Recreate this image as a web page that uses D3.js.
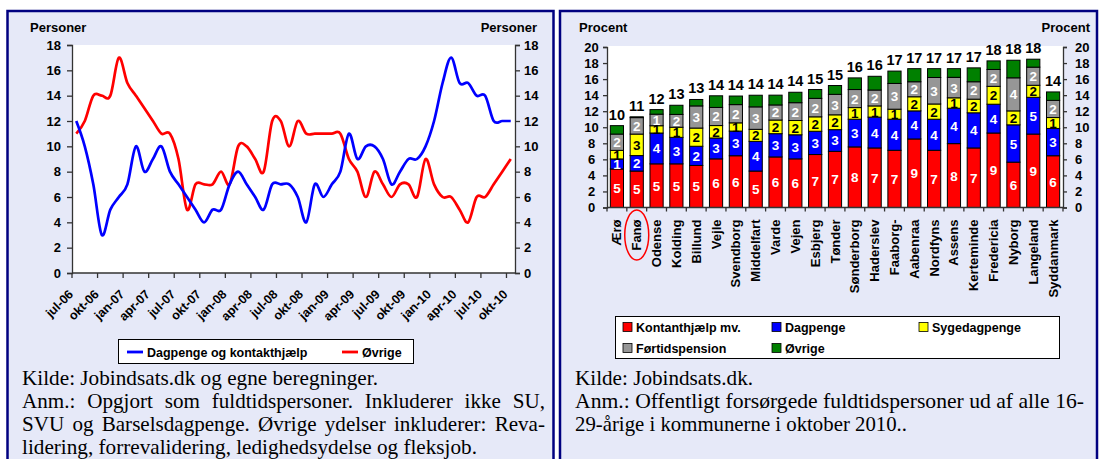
<!DOCTYPE html>
<html><head><meta charset="utf-8">
<script src="https://cdn.jsdelivr.net/npm/d3@7"></script>
<style>
body{margin:0;background:#fff}
svg{display:block}
text{font-family:"Liberation Sans",Arial,sans-serif}
.note{font-family:"Liberation Serif","Times New Roman",serif;font-size:20px;fill:#000}
</style>
</head><body>
<svg id="c" width="1099" height="459"></svg>
<script>
// ---------- DATA: left chart (monthly, persons) ----------
const months = ["jul-06","aug-06","sep-06","okt-06","nov-06","dec-06","jan-07","feb-07","mar-07","apr-07","maj-07","jun-07",
  "jul-07","aug-07","sep-07","okt-07","nov-07","dec-07","jan-08","feb-08","mar-08","apr-08","maj-08","jun-08",
  "jul-08","aug-08","sep-08","okt-08","nov-08","dec-08","jan-09","feb-09","mar-09","apr-09","maj-09","jun-09",
  "jul-09","aug-09","sep-09","okt-09","nov-09","dec-09","jan-10","feb-10","mar-10","apr-10","maj-10","jun-10",
  "jul-10","aug-10","sep-10","okt-10"];
const dagpengeKontant = [12,10,7,3,5,6,7,10,8,9,10,8,7,6,5,4,5,5,7,8,7,6,5,7,7,7,6,4,7,6,7,8,11,9,10,10,9,7,8,9,9,10,12,15,17,15,15,14,14,12,12,12];
const ovrigeLine      = [11,12,14,14,14,17,15,14,13,12,11,11,9,5,7,7,7,8,7,10,10,9,8,12,12,10,12,11,11,11,11,11,9,8,6,8,7,6,7,7,6,9,7,6,6,5,4,6,6,7,8,9];
const leftTicks = [0,2,4,6,8,10,12,14,16,18];

// ---------- DATA: right chart (percent, by municipality) ----------
const kommuner = ["Ærø","Fanø","Odense","Kolding","Billund","Vejle","Svendborg","Middelfart","Varde","Vejen","Esbjerg","Tønder",
  "Sønderborg","Haderslev","Faaborg-","Aabenraa","Nordfyns","Assens","Kerteminde","Fredericia","Nyborg","Langeland","Syddanmark"];
const kontanthjaelp = [4.8,4.54,5.44,5.44,5.24,6.06,6.45,4.54,6.3,6.06,6.6,7.0,7.55,7.42,7.13,8.54,7.13,7.96,7.42,9.28,5.65,9.15,6.45];
const dagpenge      = [1.25,1.93,3.84,3.3,2.39,2.6,3.07,3.7,2.9,3.0,2.9,2.7,3.45,3.84,3.87,3.5,3.87,4.41,4.38,3.59,4.65,4.58,3.4];
const sygedagpenge  = [1.07,2.68,0.91,1.26,2.27,1.55,1.03,1.5,1.7,1.78,1.8,1.85,1.45,1.4,1.25,1.76,1.9,1.3,1.7,2.23,1.74,1.5,1.36];
const fortidspension= [2.03,2.05,1.44,1.6,2.76,2.26,2.27,2.8,1.88,2.22,2.3,2.55,2.25,1.98,3.21,1.87,3.3,2.55,2.17,2.1,4.12,2.26,2.14];
const ovrige        = [1.05,0.1,0.57,1.14,0.8,1.45,1.07,1.45,1.22,1.3,1.1,1.1,1.45,1.71,1.54,1.63,1.1,1.08,1.73,1.07,2.19,0.99,1.05];
const rightTicks = [0,2,4,6,8,10,12,14,16,18,20];

const seriesNames = ["Kontanthjælp mv.","Dagpenge","Sygedagpenge","Førtidspension","Øvrige"];
const seriesColors = ["#FF0000","#0000FF","#FFFF00","#969696","#008000"];
const seriesTextColors = ["#fff","#fff","#000","#fff",null];

const svg = d3.select("#c");
const NAVY = "#000080", PANEL = "#E6E9F8";

// ---------- panels ----------
svg.append("rect").attr("x",7.5).attr("y",11).attr("width",546).attr("height",470)
  .attr("fill",PANEL).attr("stroke",NAVY).attr("stroke-width",2.5);
svg.append("rect").attr("x",560).attr("y",11).attr("width",537).attr("height",470)
  .attr("fill",PANEL).attr("stroke",NAVY).attr("stroke-width",2.5);

// ================= LEFT CHART =================
const L = {x0:72, x1:515, y0:45, y1:273};
const xL = d3.scaleBand().domain(d3.range(months.length)).range([L.x0,L.x1]);
const yL = d3.scaleLinear().domain([0,18]).range([L.y1,L.y0]);
const gL = svg.append("g");
gL.append("rect").attr("x",L.x0).attr("y",L.y0).attr("width",L.x1-L.x0).attr("height",L.y1-L.y0).attr("fill","#fff");

function styleAxis(g, fs){
  g.select(".domain").attr("stroke","#333").attr("stroke-width",1.3);
  g.selectAll(".tick line").attr("stroke","#333").attr("stroke-width",1.3);
  g.selectAll("text").attr("font-size",fs).attr("font-weight","bold").attr("fill","#000")
    .attr("font-family","Liberation Sans, Arial, sans-serif");
}
const axL = d3.axisLeft(yL).tickValues(leftTicks).tickSize(5).tickPadding(6);
const axR = d3.axisRight(yL).tickValues(leftTicks).tickSize(5).tickPadding(4);
gL.append("g").attr("transform",`translate(${L.x0},0)`).call(axL).call(g=>styleAxis(g,13));
gL.append("g").attr("transform",`translate(${L.x1},0)`).call(axR).call(g=>styleAxis(g,13));

// x axis
const tickIdx = d3.range(0, months.length, 3);
gL.append("line").attr("x1",L.x0).attr("x2",L.x1).attr("y1",L.y1).attr("y2",L.y1).attr("stroke","#333").attr("stroke-width",1.3);
gL.selectAll(".xt").data(tickIdx).join("line")
  .attr("x1",i=>xL(i)).attr("x2",i=>xL(i)).attr("y1",L.y1).attr("y2",L.y1+5).attr("stroke","#333").attr("stroke-width",1.3);
gL.selectAll(".xl").data(tickIdx).join("text")
  .attr("transform",i=>`translate(${xL(i)+2},${L.y1+22}) rotate(-45)`)
  .attr("text-anchor","end").attr("font-size",12.5).attr("font-weight","bold").text(i=>months[i]);

// lines
const lineGen = d3.line().x((d,i)=>xL(i)+xL.bandwidth()/2).y(d=>yL(d)).curve(d3.curveCatmullRom.alpha(0));
gL.append("path").datum(ovrigeLine).attr("d",lineGen).attr("fill","none").attr("stroke","#FF0000").attr("stroke-width",2.7);
gL.append("path").datum(dagpengeKontant).attr("d",lineGen).attr("fill","none").attr("stroke","#0000FF").attr("stroke-width",2.7);

// titles
gL.append("text").attr("x",30).attr("y",32).attr("font-size",13).attr("font-weight","bold").text("Personer");
gL.append("text").attr("x",537).attr("y",32).attr("text-anchor","end").attr("font-size",13).attr("font-weight","bold").text("Personer");

// legend
const lg = gL.append("g");
lg.append("rect").attr("x",118.5).attr("y",339.5).attr("width",295).attr("height",24).attr("fill","#fff").attr("stroke","#000").attr("stroke-width",1);
[["Dagpenge og kontakthjælp","#0000FF",127],["Øvrige","#FF0000",342]].forEach(([t,c,x])=>{
  lg.append("line").attr("x1",x).attr("x2",x+16).attr("y1",352).attr("y2",352).attr("stroke",c).attr("stroke-width",2.8);
  lg.append("text").attr("x",x+20).attr("y",356.5).attr("font-size",12.5).attr("font-weight","bold").text(t);
});

// notes (serif; justified where the reference is)
const SX = 1.055;
function noteLine(x,y,str,target,justify){
  const g = svg.append("g").attr("transform",`translate(${x},${y}) scale(${SX},1)`);
  const t = g.append("text").attr("class","note").attr("x",0).attr("y",0).text(str);
  const w = t.node().getComputedTextLength();
  if(justify){
    const n = (str.match(/ /g)||[]).length;
    if(n>0) t.attr("word-spacing",(target/SX - w)/n);
  } else if(target){
    t.attr("textLength",target/SX).attr("lengthAdjust","spacingAndGlyphs");
  }
  return t;
}
noteLine(22,385,"Kilde: Jobindsats.dk og egne beregninger.",356,false);
noteLine(22,408,"Anm.: Opgjort som fuldtidspersoner. Inkluderer ikke SU,",523,true);
noteLine(22,431,"SVU og Barselsdagpenge. Øvrige ydelser inkluderer: Reva-",523,true);
noteLine(22,454,"lidering, forrevalidering, ledighedsydelse og fleksjob.",455,false);

// ================= RIGHT CHART =================
const R = {x0:607, x1:1063, y0:47, y1:207.5};
const xR = d3.scaleBand().domain(kommuner).range([R.x0,R.x1]);
const yR = d3.scaleLinear().domain([0,20]).range([R.y1,R.y0]);
const gR = svg.append("g");
gR.append("rect").attr("x",R.x0).attr("y",R.y0-1).attr("width",R.x1-R.x0).attr("height",R.y1-R.y0+1).attr("fill","#fff");

const rowsR = kommuner.map((k,i)=>({k, s0:kontanthjaelp[i], s1:dagpenge[i], s2:sygedagpenge[i], s3:fortidspension[i], s4:ovrige[i]}));
const keys = ["s0","s1","s2","s3","s4"];
const stacked = d3.stack().keys(keys)(rowsR);
const bw = xR.bandwidth()*0.665;
const cx = k => xR(k)+xR.bandwidth()/2;

stacked.forEach((layer,si)=>{
  gR.append("g").selectAll("rect").data(layer).join("rect")
    .attr("x",d=>cx(d.data.k)-bw/2).attr("width",bw)
    .attr("y",d=>yR(d[1])).attr("height",d=>yR(d[0])-yR(d[1]))
    .attr("fill",seriesColors[si]).attr("stroke","#000").attr("stroke-width",1);
});
stacked.forEach((layer,si)=>{
  if(!seriesTextColors[si]) return;
  gR.append("g").selectAll("text").data(layer).join("text")
    .attr("x",d=>cx(d.data.k)).attr("y",d=>(yR(d[0])+yR(d[1]))/2+5)
    .attr("text-anchor","middle").attr("font-size",13.5).attr("font-weight","bold")
    .attr("fill",seriesTextColors[si]).text(d=>Math.round(d[1]-d[0]));
});
// totals
gR.append("g").selectAll("text").data(rowsR).join("text")
  .attr("x",d=>cx(d.k)).attr("y",d=>yR(d.s0+d.s1+d.s2+d.s3+d.s4)-6)
  .attr("text-anchor","middle").attr("font-size",14.5).attr("font-weight","bold").attr("fill","#000")
  .text(d=>Math.round(d.s0+d.s1+d.s2+d.s3+d.s4));

// axes
const axRL = d3.axisLeft(yR).tickValues(rightTicks).tickSize(4).tickPadding(6);
const axRR = d3.axisRight(yR).tickValues(rightTicks).tickSize(4).tickPadding(8);
gR.append("g").attr("transform",`translate(${R.x0},0)`).call(axRL).call(g=>styleAxis(g,13))
  .call(g=>g.selectAll("text").attr("text-anchor","middle").attr("x",-15.5));
gR.append("g").attr("transform",`translate(${R.x1},0)`).call(axRR).call(g=>styleAxis(g,13));
gR.append("line").attr("x1",R.x0).attr("x2",R.x1).attr("y1",R.y1).attr("y2",R.y1).attr("stroke","#333").attr("stroke-width",1.3);
gR.selectAll(".ct").data(d3.range(kommuner.length+1)).join("line")
  .attr("x1",i=>R.x0+i*xR.step()).attr("x2",i=>R.x0+i*xR.step())
  .attr("y1",R.y1).attr("y2",R.y1+4).attr("stroke","#333").attr("stroke-width",1.3);
gR.selectAll(".cl").data(kommuner).join("text")
  .attr("transform",k=>`translate(${cx(k)+4.5},${R.y1+12}) rotate(-90)`)
  .attr("text-anchor","end").attr("font-size",13).attr("font-weight","bold").text(k=>k);

// highlight Fanø
gR.append("ellipse").attr("cx",cx("Fanø")).attr("cy",235).attr("rx",12).attr("ry",25)
  .attr("fill","none").attr("stroke","#FF0000").attr("stroke-width",1.5);

// titles
gR.append("text").attr("x",579).attr("y",32).attr("font-size",13).attr("font-weight","bold").text("Procent");
gR.append("text").attr("x",1090).attr("y",32).attr("text-anchor","end").attr("font-size",13).attr("font-weight","bold").text("Procent");

// legend
const lr = gR.append("g");
lr.append("rect").attr("x",615.5).attr("y",316.5).attr("width",444).attr("height",42).attr("fill","#fff").attr("stroke","#000").attr("stroke-width",1);
const legPos = [[623,327],[772,327],[919,327],[623,348],[772,348]];
seriesNames.forEach((n,i)=>{
  const [x,y] = legPos[i];
  lr.append("rect").attr("x",x).attr("y",y-4.5).attr("width",9).attr("height",9).attr("fill",seriesColors[i]).attr("stroke","#000").attr("stroke-width",0.8);
  lr.append("text").attr("x",x+13).attr("y",y+4.5).attr("font-size",12.5).attr("font-weight","bold").text(n);
});

// notes right
noteLine(575,385,"Kilde: Jobindsats.dk.",178,false);
noteLine(575,408,"Anm.: Offentligt forsørgede fuldtidspersoner ud af alle 16-",509,false);
noteLine(575,431,"29-årige i kommunerne i oktober 2010..",332,false);
</script>
</body></html>
